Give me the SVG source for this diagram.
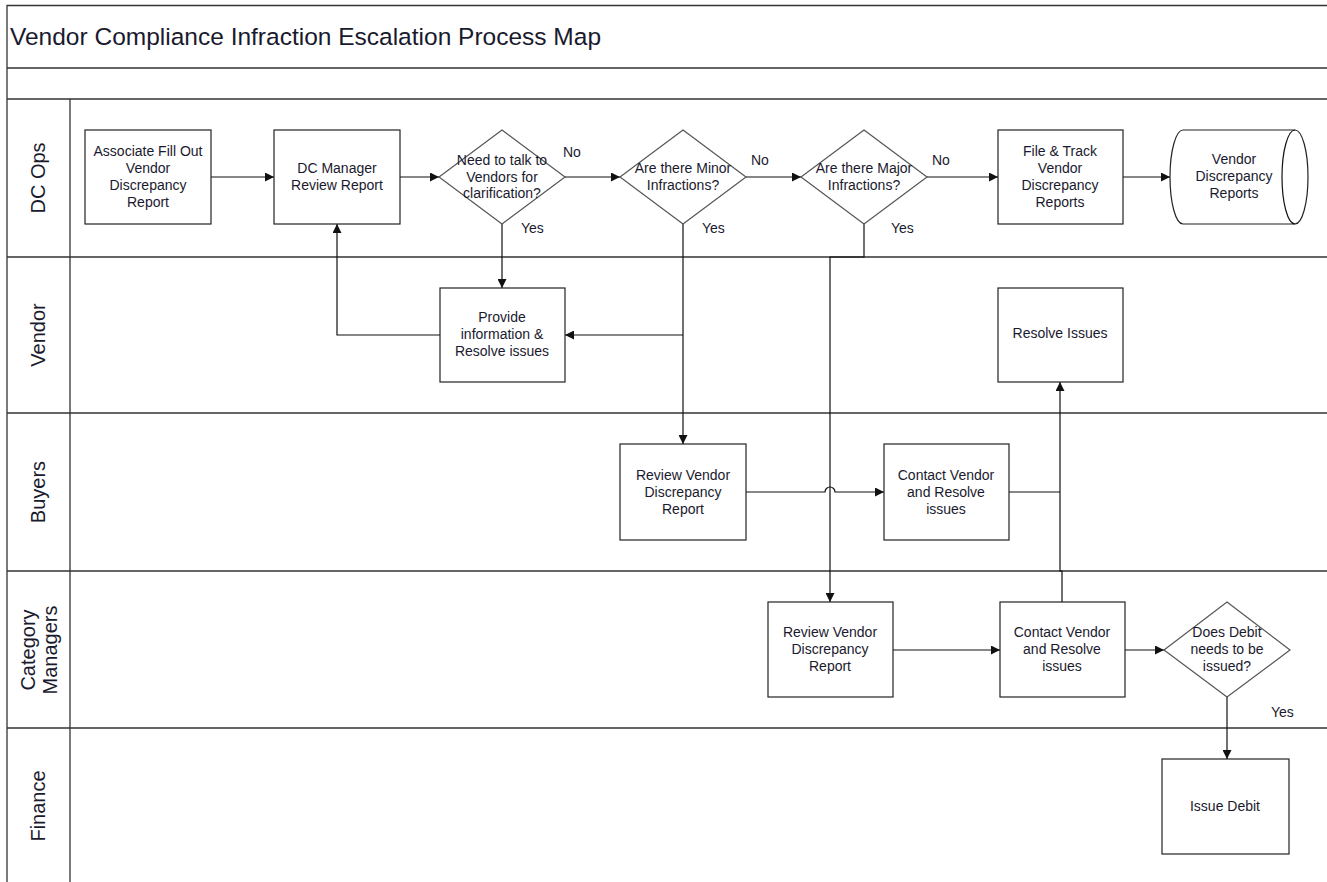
<svg xmlns="http://www.w3.org/2000/svg" width="1327" height="882" viewBox="0 0 1327 882">
<style>
text{font-family:"Liberation Sans",Arial,sans-serif;fill:#1a1a2e;}
.t{font-size:14px;text-anchor:middle;}
.lbl{font-size:14px;}
.lane{font-size:20px;text-anchor:middle;}
.frame{fill:none;stroke:#333;stroke-width:1.3;}
.box{fill:#fff;stroke:#222;stroke-width:1.2;}
.dia{fill:#fff;stroke:#555;stroke-width:1.2;}
.c{fill:none;stroke:#111;stroke-width:1.2;}
</style>
<defs>
<marker id="ah" viewBox="0 0 10 10" refX="10" refY="5" markerWidth="9" markerHeight="9" markerUnits="userSpaceOnUse" orient="auto">
<path d="M0,0 L10,5 L0,10 z" fill="#111"/>
</marker>
</defs>
<rect width="1327" height="882" fill="#fff"/>
<g id="frame">
<path class="frame" d="M7,882 V5.5 H1327 M7,68 H1327 M7,99 H1327 M7,257 H1327 M7,413 H1327 M7,571 H1327 M7,728 H1327 M70,99 V882"/>
<text x="10" y="45" style="font-size:24.5px">Vendor Compliance Infraction Escalation Process Map</text>
</g>
<g id="lanes">
<text class="lane" transform="translate(45,178) rotate(-90)">DC Ops</text>
<text class="lane" transform="translate(45,335) rotate(-90)">Vendor</text>
<text class="lane" transform="translate(45,492) rotate(-90)">Buyers</text>
<text class="lane" transform="translate(35,650) rotate(-90)">Category</text>
<text class="lane" transform="translate(57,650) rotate(-90)">Managers</text>
<text class="lane" transform="translate(45,806) rotate(-90)">Finance</text>
</g>
<g id="connectors">
<path class="c" d="M211,177 H274" marker-end="url(#ah)"/>
<path class="c" d="M400,177 H439" marker-end="url(#ah)"/>
<path class="c" d="M565,177 H620" marker-end="url(#ah)"/>
<path class="c" d="M746,177 H801" marker-end="url(#ah)"/>
<path class="c" d="M927,177 H998" marker-end="url(#ah)"/>
<path class="c" d="M1123,177 H1170" marker-end="url(#ah)"/>
<path class="c" d="M502,224 V288" marker-end="url(#ah)"/>
<path class="c" d="M440,335 H337 V224" marker-end="url(#ah)"/>
<path class="c" d="M683,224 V444" marker-end="url(#ah)"/>
<path class="c" d="M683,335 H565" marker-end="url(#ah)"/>
<path class="c" d="M864,224 V257 H830 V602" marker-end="url(#ah)"/>
<path class="c" d="M746,492 H825 A5,5 0 0 1 835,492 H884" marker-end="url(#ah)"/>
<path class="c" d="M1009,492 H1060"/>
<path class="c" d="M1062,602 V571 H1060 V382" marker-end="url(#ah)"/>
<path class="c" d="M893,650 H1000" marker-end="url(#ah)"/>
<path class="c" d="M1125,650 H1164" marker-end="url(#ah)"/>
<path class="c" d="M1227,697 V759" marker-end="url(#ah)"/>
<text class="lbl" x="563" y="157">No</text>
<text class="lbl" x="751" y="165">No</text>
<text class="lbl" x="932" y="165">No</text>
<text class="lbl" x="521" y="233">Yes</text>
<text class="lbl" x="702" y="233">Yes</text>
<text class="lbl" x="891" y="233">Yes</text>
<text class="lbl" x="1271" y="717">Yes</text>
</g>
<g id="n1"><rect class="box" x="85" y="130" width="126" height="94"/>
<text class="t" x="148" y="156">Associate Fill Out</text><text class="t" x="148" y="173">Vendor</text><text class="t" x="148" y="190">Discrepancy</text><text class="t" x="148" y="207">Report</text></g>
<g id="n2"><rect class="box" x="274" y="130" width="126" height="94"/>
<text class="t" x="337" y="173">DC Manager</text><text class="t" x="337" y="190">Review Report</text></g>
<g id="d1"><path class="dia" d="M502,130 L565,177 L502,224 L439,177 Z"/>
<text class="t" x="502" y="165">Need to talk to</text><text class="t" x="502" y="182">Vendors for</text><text class="t" x="502" y="198">clarification?</text></g>
<g id="d2"><path class="dia" d="M683,130 L746,177 L683,224 L620,177 Z"/>
<text class="t" x="683" y="173">Are there Minor</text><text class="t" x="683" y="190">Infractions?</text></g>
<g id="d3"><path class="dia" d="M864,130 L927,177 L864,224 L801,177 Z"/>
<text class="t" x="864" y="173">Are there Major</text><text class="t" x="864" y="190">Infractions?</text></g>
<g id="n3"><rect class="box" x="998" y="130" width="125" height="94"/>
<text class="t" x="1060" y="156">File &amp; Track</text><text class="t" x="1060" y="173">Vendor</text><text class="t" x="1060" y="190">Discrepancy</text><text class="t" x="1060" y="207">Reports</text></g>
<g id="n4"><path class="box" d="M1183,130 H1295 A13,47 0 0 1 1295,224 H1183 A13,47 0 0 1 1183,130 Z"/>
<path class="c" d="M1295,130 A13,47 0 0 0 1295,224"/>
<text class="t" x="1234" y="164">Vendor</text><text class="t" x="1234" y="181">Discrepancy</text><text class="t" x="1234" y="198">Reports</text></g>
<g id="n5"><rect class="box" x="440" y="288" width="125" height="94"/>
<text class="t" x="502" y="322">Provide</text><text class="t" x="502" y="339">information &amp;</text><text class="t" x="502" y="356">Resolve issues</text></g>
<g id="n6"><rect class="box" x="998" y="288" width="125" height="94"/>
<text class="t" x="1060" y="338">Resolve Issues</text></g>
<g id="n7"><rect class="box" x="620" y="444" width="126" height="96"/>
<text class="t" x="683" y="480">Review Vendor</text><text class="t" x="683" y="497">Discrepancy</text><text class="t" x="683" y="514">Report</text></g>
<g id="n8"><rect class="box" x="884" y="444" width="125" height="96"/>
<text class="t" x="946" y="480">Contact Vendor</text><text class="t" x="946" y="497">and Resolve</text><text class="t" x="946" y="514">issues</text></g>
<g id="n9"><rect class="box" x="768" y="602" width="125" height="95"/>
<text class="t" x="830" y="637">Review Vendor</text><text class="t" x="830" y="654">Discrepancy</text><text class="t" x="830" y="671">Report</text></g>
<g id="n10"><rect class="box" x="1000" y="602" width="125" height="95"/>
<text class="t" x="1062" y="637">Contact Vendor</text><text class="t" x="1062" y="654">and Resolve</text><text class="t" x="1062" y="671">issues</text></g>
<g id="d4"><path class="dia" d="M1227,602 L1290,650 L1227,697 L1164,650 Z"/>
<text class="t" x="1227" y="637">Does Debit</text><text class="t" x="1227" y="654">needs to be</text><text class="t" x="1227" y="671">issued?</text></g>
<g id="n11"><rect class="box" x="1162" y="759" width="127" height="95"/>
<text class="t" x="1225" y="811">Issue Debit</text></g>
</svg>
